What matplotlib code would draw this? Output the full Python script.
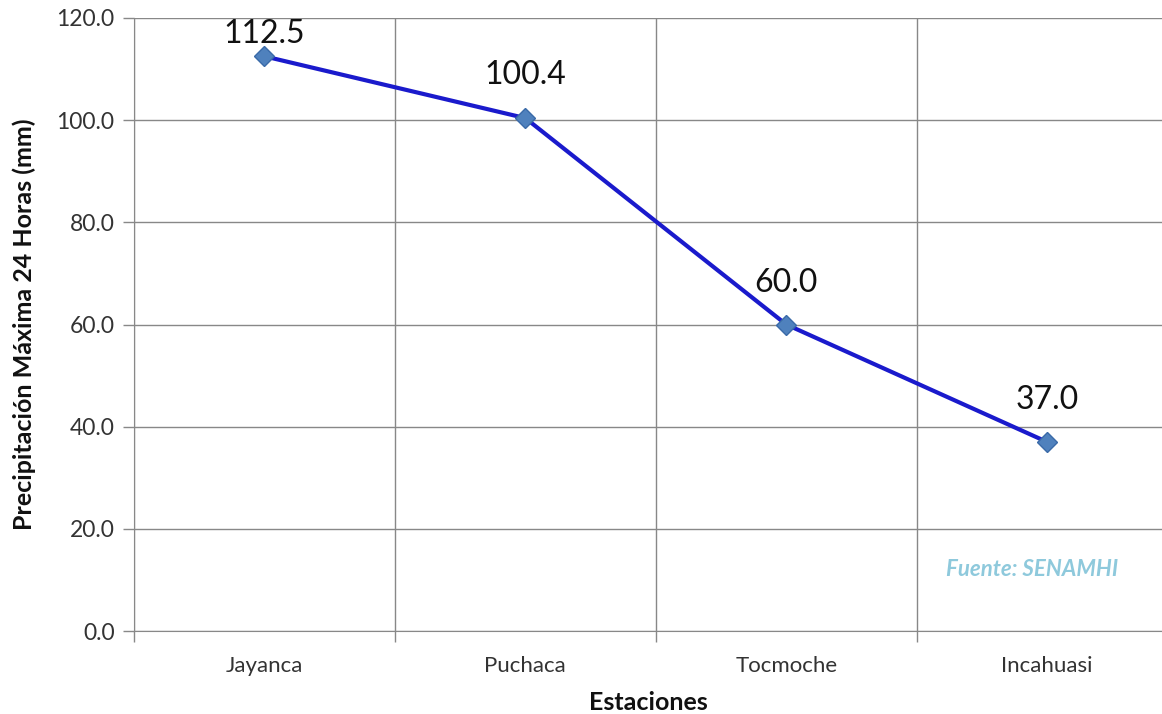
import matplotlib.pyplot as plt
from matplotlib.ticker import FixedLocator

# datos
estaciones = ['Jayanca', 'Puchaca', 'Tocmoche', 'Incahuasi']
precip = [112.5, 100.4, 60.0, 37.0]
yticks = [0, 20, 40, 60, 80, 100, 120]

plt.rcParams['font.family'] = ['Lato', 'DejaVu Sans']

fig = plt.figure(figsize=(11.62, 7.14), dpi=100)
ax = fig.add_axes([0.1153, 0.1162, 0.8847, 0.8586])

x = list(range(len(estaciones)))
ax.plot(x, precip, color='#1a1acc', linewidth=3, marker='D', markersize=10,
        markerfacecolor='#4f81bd', markeredgecolor='#3a6aa8', markeredgewidth=1, zorder=3)

# desplazamiento de las etiquetas (el primero queda pegado al borde)
desp = [16, 31, 30, 30]
for xi, v, d in zip(x, precip, desp):
    ax.annotate('%.1f' % v, (xi, v), xytext=(0, d), textcoords='offset points',
                ha='center', va='center', fontsize=23, color='#111111')

ax.set_xlim(-0.5, 3.44)
ax.set_ylim(0, 120)
ax.set_yticks(yticks)
ax.set_yticklabels(['%.1f' % t for t in yticks])
ax.set_xticks(x)
ax.set_xticklabels(estaciones)
ax.xaxis.set_minor_locator(FixedLocator([-0.5, 0.5, 1.5, 2.5, 3.5]))

ax.tick_params(axis='x', which='major', length=0, pad=18, labelsize=16, labelcolor='#333333')
ax.tick_params(axis='x', which='minor', length=8, color='#888888', width=1)
ax.tick_params(axis='y', length=8, color='#888888', width=1, pad=6, labelsize=16.5, labelcolor='#333333')

ax.grid(True, axis='y', color='#888888', linewidth=1)
ax.grid(True, axis='x', which='minor', color='#888888', linewidth=1)
ax.set_axisbelow(True)

for s in ['top', 'right']:
    ax.spines[s].set_visible(False)
ax.spines['left'].set_color('#888888')
ax.spines['bottom'].set_color('#888888')

ax.set_xlabel('Estaciones', fontsize=18, fontweight='bold', color='#111111', labelpad=11)
ax.set_ylabel('Precipitación Máxima 24 Horas (mm)', fontsize=18, fontweight='bold',
              color='#111111', labelpad=15)

ax.text(0.957, 0.101, 'Fuente: SENAMHI', transform=ax.transAxes, ha='right', va='center',
        fontsize=16, fontstyle='italic', fontweight='bold', color='#8ec9dc')

fig.savefig('out.png', dpi=100)
